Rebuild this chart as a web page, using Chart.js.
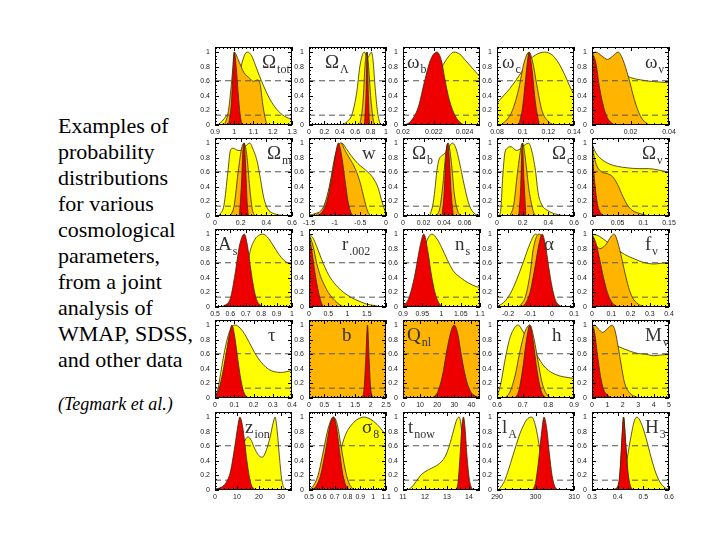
<!DOCTYPE html>
<html>
<head>
<meta charset="utf-8">
<script src="https://cdn.jsdelivr.net/npm/chart.js@4"></script>
<style>
body { margin: 0; background: #fff; width: 720px; height: 540px; position: relative; overflow: hidden; }
#text { position: absolute; left: 58px; top: 113px; font: 22px/26px "Liberation Serif", "Times New Roman", serif; color: #000; }
#cite { position: absolute; left: 58px; top: 394px; font: italic 18px/20px "Liberation Serif", "Times New Roman", serif; color: #000; }
canvas { position: absolute; }
</style>
</head>
<body>
<div id="text">Examples of<br>probability<br>distributions<br>for various<br>cosmological<br>parameters,<br>from a joint<br>analysis of<br>WMAP, SDSS,<br>and other data</div>
<div id="cite">(Tegmark et al.)</div>
<script>
// panel names: symbol + subscript
const names = [['Ω','tot'],['Ω','Λ'],['ω','b'],['ω','c'],['ω','ν'],
  ['Ω','m'],['w',''],['Ω','b'],['Ω','c'],['Ω','ν'],
  ['A','s'],['r','.002'],['n','s'],['α',''],['f','ν'],
  ['τ',''],['b',''],['Q','nl'],['h',''],['M','ν'],
  ['z','ion'],['σ','8'],['t','now'],['l','A'],['H','3']];

const xMin = [0.9,0,0.02,0.08,0, 0,-1.5,0,0,0, 0.5,0,0.9,-0.25,0, 0,0,0,0.6,0, 0,0.5,11,290,0.3];
const xMax = [1.3,1,0.025,0.14,0.04, 0.6,0,0.075,0.6,0.15, 1,2,1.1,0.1,0.4, 0.4,2.5,45,0.9,5, 35,1.1,14.5,310,0.6];

const xTicks = [
  [0.9,1,1.1,1.2,1.3],[0,0.2,0.4,0.6,0.8,1],[0.02,0.022,0.024],[0.08,0.1,0.12,0.14],[0,0.02,0.04],
  [0,0.2,0.4,0.6],[-1.5,-1,-0.5,0],[0,0.02,0.04,0.06],[0,0.2,0.4,0.6],[0,0.05,0.1,0.15],
  [0.5,0.6,0.7,0.8,0.9,1],[0,0.5,1,1.5],[0.9,0.95,1,1.05,1.1],[-0.2,-0.1,0,0.1],[0,0.1,0.2,0.3,0.4],
  [0,0.1,0.2,0.3,0.4],[0,0.5,1,1.5,2,2.5],[0,10,20,30,40],[0.6,0.7,0.8,0.9],[0,1,2,3,4,5],
  [0,10,20,30],[0.5,0.6,0.7,0.8,0.9,1,1.1],[11,12,13,14],[290,300,310],[0.3,0.4,0.5,0.6]
];
const yTicks = [0,0.2,0.4,0.6,0.8,1];
const levels = [0.607, 0.135];

const yellow = [
  [[0.915,0],[0.94,0.06],[0.96,0.13],[0.98,0.2],[1.0,0.35],[1.02,0.6],[1.04,0.85],[1.06,0.99],[1.07,1],[1.09,0.95],[1.11,0.82],[1.13,0.68],[1.15,0.55],[1.18,0.38],[1.21,0.25],[1.25,0.14],[1.3,0.07]],
  [[0.42,0],[0.5,0.05],[0.56,0.15],[0.62,0.45],[0.66,0.8],[0.7,0.98],[0.72,1],[0.76,0.92],[0.79,0.97],[0.81,1],[0.83,0.9],[0.86,0.5],[0.89,0.18],[0.92,0.03],[0.94,0]],
  [[0.0203,0],[0.021,0.1],[0.0215,0.25],[0.022,0.5],[0.0225,0.78],[0.023,0.95],[0.0233,1],[0.0237,0.97],[0.024,0.9],[0.0245,0.78],[0.025,0.66]],
  [[0.08,0.3],[0.085,0.4],[0.09,0.5],[0.095,0.62],[0.1,0.75],[0.105,0.88],[0.11,0.96],[0.117,1],[0.123,0.96],[0.128,0.85],[0.133,0.68],[0.137,0.52],[0.14,0.42]],
  [[0,1],[0.003,0.95],[0.007,0.87],[0.012,0.77],[0.016,0.7],[0.02,0.65],[0.025,0.62],[0.03,0.6],[0.035,0.59],[0.04,0.58]],
  [[0.02,0],[0.04,0.03],[0.07,0.15],[0.1,0.6],[0.12,0.9],[0.14,0.93],[0.18,0.9],[0.21,0.9],[0.24,0.96],[0.27,1],[0.3,0.9],[0.33,0.74],[0.355,0.5],[0.38,0.25],[0.41,0.1],[0.45,0.04],[0.52,0.01],[0.6,0]],
  [[-1.5,0.01],[-1.35,0.04],[-1.25,0.08],[-1.15,0.25],[-1.05,0.55],[-0.97,0.82],[-0.9,0.97],[-0.86,1],[-0.78,0.93],[-0.67,0.82],[-0.55,0.72],[-0.45,0.66],[-0.35,0.6],[-0.25,0.52],[-0.15,0.38],[-0.08,0.2],[0,0.03]],
  [[0.026,0],[0.029,0.15],[0.031,0.35],[0.033,0.62],[0.035,0.77],[0.038,0.83],[0.041,0.86],[0.045,0.95],[0.048,1],[0.051,0.95],[0.054,0.8],[0.057,0.6],[0.06,0.4],[0.063,0.22],[0.066,0.1],[0.07,0.03],[0.075,0.01]],
  [[0.02,0],[0.03,0.1],[0.045,0.55],[0.06,0.85],[0.08,0.93],[0.11,0.95],[0.15,0.9],[0.19,0.93],[0.22,0.98],[0.245,1],[0.27,0.9],[0.3,0.62],[0.32,0.32],[0.35,0.15],[0.39,0.08],[0.45,0.03],[0.5,0.01],[0.56,0]],
  [[0,1],[0.005,0.9],[0.01,0.84],[0.02,0.77],[0.035,0.71],[0.05,0.68],[0.07,0.66],[0.09,0.65],[0.11,0.65],[0.13,0.63],[0.15,0.6]],
  [[0.58,0],[0.63,0.05],[0.66,0.15],[0.7,0.45],[0.73,0.78],[0.76,0.93],[0.79,0.99],[0.81,1],[0.84,0.96],[0.87,0.87],[0.9,0.77],[0.93,0.68],[0.96,0.62],[1.0,0.58]],
  [[0,1],[0.1,0.95],[0.2,0.83],[0.33,0.65],[0.5,0.45],[0.7,0.3],[0.9,0.2],[1.1,0.13],[1.3,0.08],[1.5,0.04],[1.7,0.02],[1.9,0]],
  [[0.9,0],[0.915,0.05],[0.93,0.2],[0.945,0.55],[0.96,0.88],[0.975,1],[0.99,0.92],[1.0,0.82],[1.015,0.65],[1.03,0.5],[1.05,0.4],[1.07,0.33],[1.09,0.28],[1.1,0.27]],
  [[-0.25,0.01],[-0.22,0.06],[-0.19,0.18],[-0.16,0.38],[-0.13,0.62],[-0.1,0.87],[-0.075,1],[-0.055,0.9],[-0.04,0.6],[-0.025,0.3],[-0.01,0.1],[0.01,0.02],[0.03,0]],
  [[0,1],[0.03,0.98],[0.07,0.91],[0.12,0.81],[0.17,0.72],[0.22,0.66],[0.27,0.61],[0.32,0.59],[0.36,0.6],[0.4,0.61]],
  [[0,0.01],[0.015,0.12],[0.03,0.35],[0.05,0.65],[0.07,0.87],[0.09,0.98],[0.105,1],[0.13,0.96],[0.16,0.85],[0.19,0.7],[0.22,0.56],[0.25,0.46],[0.28,0.39],[0.31,0.36],[0.34,0.35],[0.37,0.36],[0.4,0.38]],
  null,
  null,
  [[0.6,0.02],[0.615,0.2],[0.63,0.5],[0.65,0.82],[0.67,0.97],[0.683,1],[0.7,0.92],[0.72,0.8],[0.74,0.68],[0.76,0.56],[0.78,0.45],[0.8,0.38],[0.83,0.32],[0.86,0.29],[0.9,0.27]],
  [[0,0.95],[0.5,0.88],[1,0.8],[1.5,0.73],[2,0.68],[2.5,0.64],[3,0.61],[3.5,0.6],[4,0.58],[4.5,0.59],[5,0.6]],
  [[0,0.01],[3,0.03],[6,0.1],[8,0.2],[10,0.38],[12,0.55],[14,0.7],[15,0.73],[16.5,0.68],[18,0.57],[20,0.47],[21.5,0.45],[23,0.52],[25,0.72],[26.5,0.93],[27.3,1],[28.3,0.8],[29.3,0.45],[30.3,0.15],[31.3,0.03],[32,0]],
  [[0.66,0],[0.69,0.04],[0.71,0.15],[0.73,0.35],[0.756,0.6],[0.79,0.78],[0.83,0.89],[0.87,0.96],[0.93,1],[0.98,0.97],[1.03,0.9],[1.07,0.82],[1.1,0.74]],
  [[11.2,0],[11.4,0.04],[11.6,0.12],[11.8,0.2],[12.0,0.25],[12.3,0.3],[12.6,0.35],[12.9,0.45],[13.1,0.6],[13.3,0.82],[13.45,0.97],[13.55,1],[13.65,0.85],[13.75,0.4],[13.85,0.1],[13.95,0]],
  [[290.3,0],[291,0.04],[292,0.13],[293,0.28],[294,0.45],[295,0.62],[296,0.78],[297,0.9],[298,0.98],[299,1],[300,0.88],[301,0.6],[302,0.3],[303,0.1],[304,0.02],[305,0]],
  [[0.38,0],[0.41,0.08],[0.43,0.3],[0.45,0.7],[0.465,0.95],[0.475,1],[0.49,0.93],[0.51,0.72],[0.53,0.45],[0.55,0.22],[0.57,0.08],[0.59,0.02],[0.6,0.01]]
];

const orange = [
  [[0.95,0],[0.97,0.2],[0.99,0.7],[1.0,1],[1.02,0.9],[1.05,0.72],[1.08,0.64],[1.1,0.6],[1.12,0.62],[1.135,0.55],[1.15,0.25],[1.165,0.05],[1.175,0]],
  [[0.66,0],[0.7,0.3],[0.73,0.85],[0.75,1],[0.77,0.85],[0.8,0.4],[0.83,0.1],[0.85,0]],
  null,
  [[0.083,0],[0.088,0.08],[0.092,0.2],[0.097,0.5],[0.101,0.85],[0.105,1],[0.108,0.85],[0.111,0.55],[0.115,0.2],[0.12,0.05],[0.124,0]],
  [[0,0.97],[0.002,1],[0.005,0.95],[0.008,0.9],[0.011,0.95],[0.0135,1],[0.016,0.9],[0.019,0.65],[0.022,0.35],[0.025,0.13],[0.028,0.03],[0.03,0]],
  [[0.12,0],[0.15,0.15],[0.18,0.6],[0.21,0.95],[0.227,1],[0.25,0.8],[0.27,0.4],[0.29,0.1],[0.31,0]],
  [[-1.4,0],[-1.3,0.05],[-1.2,0.15],[-1.1,0.42],[-1.0,0.8],[-0.92,0.98],[-0.88,1],[-0.8,0.9],[-0.7,0.78],[-0.6,0.65],[-0.5,0.45],[-0.42,0.22],[-0.36,0.07],[-0.3,0]],
  [[0.033,0],[0.036,0.12],[0.039,0.45],[0.042,0.9],[0.044,1],[0.047,0.75],[0.05,0.3],[0.053,0.08],[0.056,0]],
  [[0.1,0],[0.13,0.15],[0.16,0.6],[0.19,0.97],[0.2,1],[0.22,0.8],[0.25,0.35],[0.28,0.08],[0.3,0]],
  [[0,1],[0.004,0.82],[0.01,0.68],[0.02,0.6],[0.03,0.58],[0.04,0.54],[0.05,0.43],[0.06,0.27],[0.07,0.14],[0.08,0.07],[0.095,0.03],[0.11,0]],
  null,
  [[0,1],[0.1,0.85],[0.2,0.6],[0.3,0.42],[0.4,0.3],[0.5,0.2],[0.6,0.13],[0.75,0.05],[0.9,0]],
  null,
  [[-0.15,0],[-0.12,0.15],[-0.1,0.45],[-0.085,0.8],[-0.06,1],[-0.045,0.95],[-0.03,0.7],[-0.01,0.35],[0.01,0.1],[0.03,0.02],[0.05,0]],
  [[0,0.93],[0.02,0.85],[0.04,0.8],[0.07,0.85],[0.1,0.97],[0.115,1],[0.13,0.92],[0.15,0.72],[0.17,0.48],[0.19,0.27],[0.21,0.13],[0.24,0.04],[0.28,0]],
  null,
  [[0,1.1],[2.5,1.1]],
  [[0,1.1],[45,1.1]],
  [[0.63,0],[0.65,0.08],[0.67,0.3],[0.69,0.65],[0.71,0.92],[0.728,1],[0.745,0.8],[0.76,0.5],[0.775,0.22],[0.79,0.07],[0.81,0]],
  [[0,0.95],[0.15,1],[0.4,0.95],[0.7,0.9],[1.0,0.95],[1.3,1],[1.5,0.92],[1.7,0.7],[1.9,0.45],[2.1,0.22],[2.4,0.08],[2.7,0.03],[3.1,0]],
  null,
  [[0.5,0.01],[0.53,0.05],[0.57,0.2],[0.61,0.52],[0.65,0.85],[0.69,1],[0.72,0.9],[0.75,0.6],[0.78,0.3],[0.81,0.1],[0.84,0.02],[0.86,0]],
  null,
  null,
  [[0.39,0],[0.405,0.1],[0.415,0.55],[0.423,1],[0.432,0.6],[0.442,0.15],[0.455,0.02],[0.465,0]]
];

const red = [
  [[0.97,0],[0.985,0.3],[0.995,0.8],[1.0,1],[1.01,0.8],[1.02,0.45],[1.03,0.15],[1.04,0]],
  [[0.72,0],[0.74,0.4],[0.755,1],[0.77,0.45],[0.785,0]],
  [[0.0201,0],[0.0205,0.05],[0.021,0.25],[0.0214,0.6],[0.0218,0.9],[0.0222,1],[0.0225,0.88],[0.0227,0.65],[0.023,0.35],[0.0234,0.12],[0.0238,0.02],[0.024,0]],
  [[0.097,0],[0.1,0.25],[0.103,0.75],[0.105,1],[0.107,0.8],[0.11,0.3],[0.113,0]],
  [[0,1],[0.002,0.85],[0.004,0.5],[0.006,0.25],[0.008,0.1],[0.01,0.03],[0.012,0]],
  [[0.19,0],[0.205,0.4],[0.22,0.95],[0.228,1],[0.238,0.7],[0.25,0.2],[0.26,0]],
  [[-1.35,0],[-1.25,0.05],[-1.15,0.2],[-1.05,0.55],[-0.97,0.9],[-0.93,1],[-0.87,0.85],[-0.8,0.5],[-0.74,0.2],[-0.68,0.04],[-0.63,0]],
  [[0.038,0],[0.04,0.3],[0.042,0.85],[0.0435,1],[0.045,0.8],[0.047,0.3],[0.049,0]],
  [[0.17,0],[0.185,0.4],[0.197,1],[0.21,0.5],[0.225,0]],
  [[0,1],[0.003,0.65],[0.007,0.35],[0.011,0.15],[0.016,0.05],[0.022,0.01],[0.028,0]],
  [[0.53,0],[0.56,0.02],[0.6,0.12],[0.63,0.45],[0.66,0.85],[0.69,1],[0.71,0.85],[0.73,0.55],[0.75,0.28],[0.77,0.1],[0.8,0.02],[0.83,0]],
  [[0,1],[0.08,0.75],[0.16,0.45],[0.25,0.2],[0.32,0.06],[0.38,0]],
  [[0.9,0.01],[0.915,0.12],[0.93,0.42],[0.945,0.85],[0.954,1],[0.965,0.75],[0.975,0.4],[0.985,0.16],[0.995,0.04],[1.005,0]],
  [[-0.14,0],[-0.12,0.05],[-0.1,0.2],[-0.08,0.5],[-0.06,0.85],[-0.045,1],[-0.03,0.85],[-0.015,0.55],[0,0.28],[0.015,0.1],[0.03,0.03],[0.05,0]],
  [[0,1],[0.02,0.88],[0.04,0.65],[0.06,0.4],[0.08,0.2],[0.1,0.08],[0.12,0.02],[0.15,0]],
  [[0,0.02],[0.02,0.12],[0.04,0.35],[0.06,0.65],[0.075,0.88],[0.088,1],[0.1,0.88],[0.115,0.6],[0.13,0.32],[0.145,0.12],[0.16,0.03],[0.18,0]],
  [[1.7,0],[1.78,0.1],[1.84,0.5],[1.9,1],[1.95,0.55],[2.0,0.15],[2.06,0.02],[2.12,0]],
  [[17,0],[20,0.07],[23,0.3],[26,0.7],[28.5,0.95],[30,1],[32,0.88],[34,0.6],[36,0.35],[38,0.17],[40,0.07],[43,0.02],[45,0]],
  [[0.67,0],[0.685,0.1],[0.7,0.4],[0.715,0.8],[0.728,1],[0.74,0.8],[0.755,0.4],[0.77,0.12],[0.785,0.02],[0.795,0]],
  [[0,1],[0.15,0.92],[0.35,0.6],[0.55,0.3],[0.75,0.12],[1.0,0.04],[1.3,0]],
  [[0,0.01],[3,0.04],[5,0.1],[7,0.25],[9,0.6],[10.5,0.9],[11.3,1],[12.5,0.88],[13.5,0.65],[14.5,0.4],[15.5,0.2],[16.5,0.07],[18,0.01],[19,0]],
  [[0.52,0],[0.55,0.04],[0.59,0.2],[0.63,0.55],[0.665,0.9],[0.69,1],[0.715,0.85],[0.74,0.5],[0.765,0.2],[0.79,0.05],[0.82,0]],
  [[13.4,0],[13.5,0.1],[13.6,0.5],[13.68,0.88],[13.75,1],[13.82,0.85],[13.9,0.5],[14.0,0.18],[14.1,0.04],[14.2,0]],
  [[299.3,0],[300,0.1],[300.8,0.4],[301.6,0.8],[302.2,1],[302.9,0.85],[303.6,0.5],[304.3,0.2],[305,0.05],[305.8,0]],
  [[0.395,0],[0.408,0.2],[0.418,0.8],[0.423,1],[0.43,0.7],[0.44,0.25],[0.45,0.05],[0.458,0]]
];

// layout of the 5x5 grid
const colLeft = [215, 309, 403, 497, 592];
const rowBottom = [125, 216, 307, 398, 490];
const labelX = [47,16,4,5,53, 52,53,9,55,50, 3,33,52,47,53, 53,33,4,55,53, 30,53,5,5,53];
const PW = 77, PH = 78, PADL = 18, PADR = 8, PADT = 6, AXH = 13;
const YMAX = 1.07;

const framePlugin = {
  id: 'frame',
  afterDraw(chart) {
    const {ctx, chartArea: a, scales: {x, y}} = chart;
    const i = chart.options.panelIndex;
    ctx.save();
    ctx.strokeStyle = '#000';
    ctx.lineWidth = 1;
    ctx.strokeRect(a.left + 0.5, a.top + 0.5, a.width - 1, a.height - 1);
    // x ticks, inward on bottom and top
    const xt = xTicks[i];
    const step = xt[1] - xt[0], minor = step / 5;
    const k0 = Math.ceil(xMin[i] / minor - 1e-6), k1 = Math.floor(xMax[i] / minor + 1e-6);
    ctx.beginPath();
    for (let k = k0; k <= k1; k++) {
      const v = k * minor;
      const px = Math.round(x.getPixelForValue(v)) + 0.5;
      const len = (k % 5 === 0) ? 4 : 2;
      ctx.moveTo(px, a.bottom); ctx.lineTo(px, a.bottom - len);
      ctx.moveTo(px, a.top); ctx.lineTo(px, a.top + len);
    }
    for (let k = 0; k <= 21; k++) {
      const v = k * 0.05;
      if (v > YMAX) break;
      const py = Math.round(y.getPixelForValue(v)) + 0.5;
      const len = (k % 4 === 0) ? 4 : 2;
      ctx.moveTo(a.left, py); ctx.lineTo(a.left + len, py);
      ctx.moveTo(a.right, py); ctx.lineTo(a.right - len, py);
    }
    ctx.stroke();
    // panel name
    const [sym, sub] = names[i];
    ctx.fillStyle = '#333';
    ctx.textBaseline = 'alphabetic';
    ctx.font = '19px "Liberation Serif", serif';
    const tx = a.left + labelX[i], ty = a.top + 21;
    ctx.fillText(sym, tx, ty);
    if (sub) {
      const w = ctx.measureText(sym).width;
      ctx.font = '12px "Liberation Serif", serif';
      ctx.fillText(sub, tx + w + 1, ty + 5);
    }
    ctx.restore();
  }
};

function area(points, color, order) {
  return {
    data: points.map(p => ({x: p[0], y: p[1]})),
    fill: 'origin',
    backgroundColor: color,
    borderColor: '#3a2800',
    borderWidth: 0.8,
    pointRadius: 0,
    cubicInterpolationMode: 'monotone',
    order
  };
}

const tickFont = {size: 7, family: '"Liberation Sans", Arial, sans-serif'};

for (let i = 0; i < 25; i++) {
  const r = Math.floor(i / 5), c = i % 5;
  const cv = document.createElement('canvas');
  cv.width = PADL + PW + PADR;
  cv.height = PADT + PH + AXH;
  cv.style.left = (colLeft[c] - PADL) + 'px';
  cv.style.top = (rowBottom[r] - PH - PADT) + 'px';
  document.body.appendChild(cv);

  const datasets = [];
  if (yellow[i]) datasets.push(area(yellow[i], '#ffff00', 4));
  if (orange[i]) datasets.push(area(orange[i], '#ffb400', 3));
  levels.forEach(l => datasets.push({
    data: [{x: xMin[i], y: l}, {x: xMax[i], y: l}],
    borderColor: '#555', borderWidth: 1, borderDash: [6, 4],
    pointRadius: 0, fill: false, order: 2
  }));
  if (red[i]) datasets.push(area(red[i], '#ee0000', 1));

  new Chart(cv.getContext('2d'), {
    type: 'line',
    data: {datasets},
    options: {
      panelIndex: i,
      responsive: false,
      animation: false,
      devicePixelRatio: 1,
      layout: {padding: {top: PADT, right: PADR, left: 0, bottom: 0}},
      plugins: {legend: {display: false}, tooltip: {enabled: false}},
      scales: {
        x: {
          type: 'linear', min: xMin[i], max: xMax[i],
          grid: {display: false, drawTicks: false}, border: {display: false},
          afterBuildTicks: s => { s.ticks = xTicks[i].map(v => ({value: v})); },
          afterFit: s => { s.height = AXH; s.paddingLeft = 0; s.paddingRight = 0; },
          ticks: {font: tickFont, color: '#222', padding: 3, maxRotation: 0, autoSkip: false,
                  callback: v => String(v)}
        },
        y: {
          type: 'linear', min: 0, max: YMAX,
          grid: {display: false, drawTicks: false}, border: {display: false},
          afterBuildTicks: s => { s.ticks = yTicks.map(v => ({value: v})); },
          afterFit: s => { s.width = PADL; s.paddingTop = 0; s.paddingBottom = 0; },
          ticks: {font: tickFont, color: '#222', padding: 5, callback: v => String(v)}
        }
      }
    },
    plugins: [framePlugin]
  });
}
</script>
</body>
</html>
